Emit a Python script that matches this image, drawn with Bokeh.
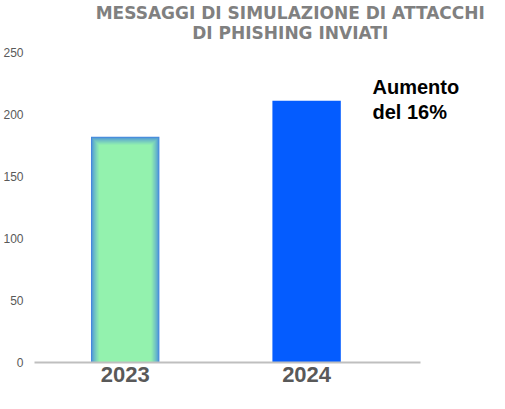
from bokeh.plotting import figure
from bokeh.models import Range1d, FixedTicker, Label
from bokeh.embed import file_html
from bokeh.resources import INLINE

# ---- data ----
categories = ["2023", "2024"]
values = [182, 211]
y_ticks = [0, 50, 100, 150, 200, 250]
title_lines = ["MESSAGGI DI SIMULAZIONE DI ATTACCHI", "DI PHISHING INVIATI"]
note_lines = ["Aumento", "del 16%"]

# ---- layout constants (pixel scale: 183 px per category, 1.24 px per unit) ----
H = 393
ZERO_PX = 362               # frame bottom (y = 0) from the figure top
PX_X = 1 / 183.0
PX_Y = 1 / 1.24
X_END = 459 * PX_X
AXIS_END = 389 * PX_X
Y_END = ZERO_PX * PX_Y
BAR_W = 69 * PX_X

p = figure(width=489, height=H, output_backend="svg", toolbar_location=None,
           x_range=Range1d(0, X_END), y_range=Range1d(0, Y_END),
           min_border_left=30, min_border_right=0,
           min_border_bottom=H - ZERO_PX, min_border_top=0)
p.outline_line_color = None
p.grid.visible = False
p.title.visible = False

xs = [i + 0.5 for i in range(len(categories))]

def mix(c1, c2, t):
    a = [int(c1[i:i + 2], 16) for i in (1, 3, 5)]
    b = [int(c2[i:i + 2], 16) for i in (1, 3, 5)]
    return "#%02x%02x%02x" % tuple(round(a[j] + (b[j] - a[j]) * t) for j in range(3))

# 2023 bar: light green with a soft blue inner glow
edge, core = "#4588de", "#93f2ae"
n_layers = 8
x0 = xs[0]
for k in range(n_layers + 1):
    t = min(1.0, (k / n_layers) ** 0.7)
    p.quad(left=[x0 - BAR_W / 2 + k * PX_X], right=[x0 + BAR_W / 2 - k * PX_X],
           bottom=[0], top=[values[0] - k * PX_Y],
           fill_color=mix(edge, core, t), line_color=None)

# 2024 bar: solid blue
p.vbar(x=[xs[1]], top=[values[1]], width=BAR_W, bottom=0,
       fill_color="#045cff", line_color=None)

# x axis
p.xaxis.bounds = (0, AXIS_END)
p.xaxis.ticker = FixedTicker(ticks=xs)
p.xaxis.major_label_overrides = {x: c for x, c in zip(xs, categories)}
p.xaxis.axis_line_color = "#bfbfbf"
p.xaxis.axis_line_width = 2
p.xaxis.major_tick_out = 0
p.xaxis.major_tick_in = 0
p.xaxis.minor_tick_line_color = None
p.xaxis.major_label_standoff = 4
p.xaxis.major_label_text_font = "Liberation Sans"
p.xaxis.major_label_text_font_style = "bold"
p.xaxis.major_label_text_font_size = "22px"
p.xaxis.major_label_text_color = "#595959"

# y axis
p.yaxis.ticker = FixedTicker(ticks=y_ticks)
p.yaxis.axis_line_color = None
p.yaxis.major_tick_line_color = None
p.yaxis.minor_tick_line_color = None
p.yaxis.major_tick_out = 0
p.yaxis.major_label_text_font = "Liberation Sans"
p.yaxis.major_label_text_font_size = "12px"
p.yaxis.major_label_text_color = "#595959"
p.yaxis.major_label_standoff = 11

# title (two centred lines)
for i, line in enumerate(title_lines):
    p.add_layout(Label(x=258 * PX_X, y=(350 - 20 * i) * PX_Y, text=line,
                       text_font="DejaVu Sans", text_font_style="bold",
                       text_font_size="17px", text_color="#808080",
                       text_align="center", text_baseline="alphabetic"))

# annotation
for i, line in enumerate(note_lines):
    p.add_layout(Label(x=341 * PX_X, y=(276 - 25 * i) * PX_Y, text=line,
                       text_font="Liberation Sans", text_font_style="bold",
                       text_font_size="20px", text_color="#000000",
                       text_align="left", text_baseline="alphabetic"))

open("out.html", "w").write(file_html(p, INLINE))
